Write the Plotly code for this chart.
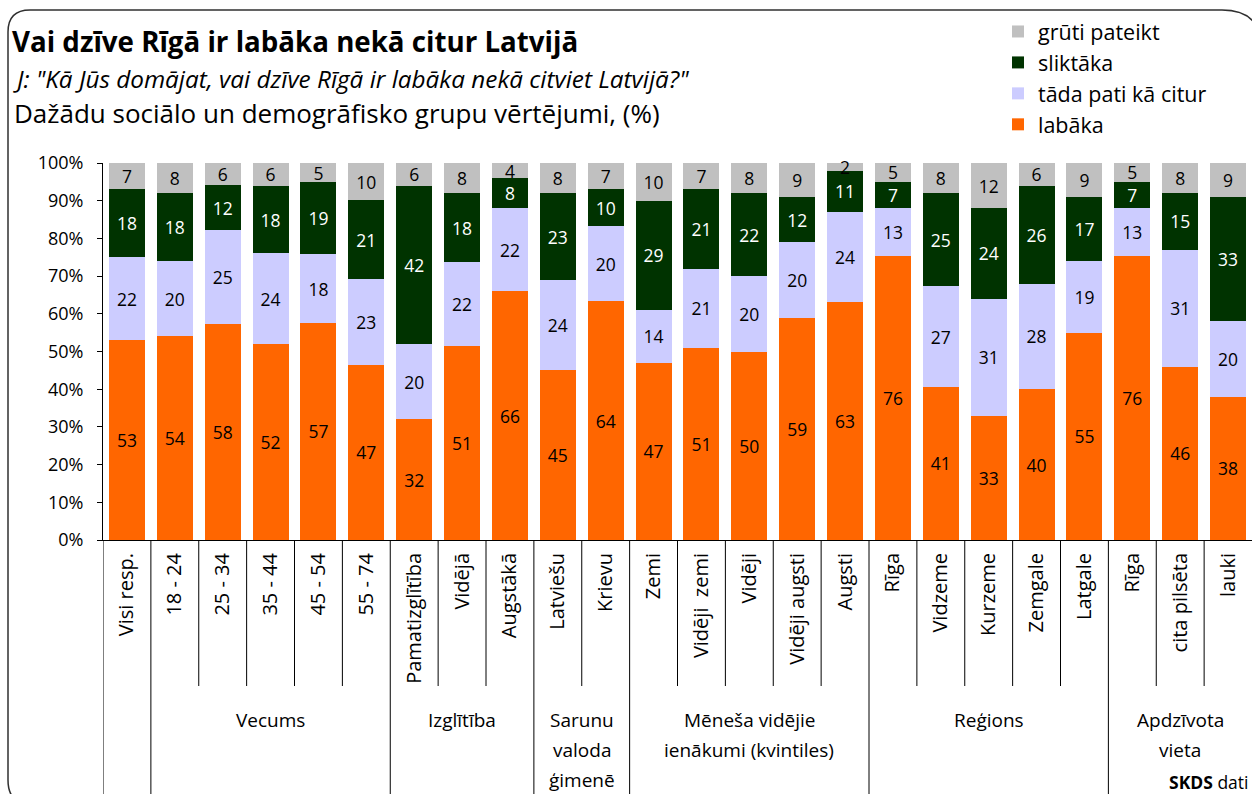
import plotly.graph_objects as go

categories = ["Visi resp.", "18 - 24", "25 - 34", "35 - 44", "45 - 54", "55 - 74",
              "Pamatizglītība", "Vidējā", "Augstākā", "Latviešu", "Krievu",
              "Zemi", "Vidēji  zemi", "Vidēji", "Vidēji augsti", "Augsti",
              "Rīga", "Vidzeme", "Kurzeme", "Zemgale", "Latgale",
              "Rīga", "cita pilsēta", "lauki"]

labaka = [53, 54, 58, 52, 57, 47, 32, 51, 66, 45, 64, 47, 51, 50, 59, 63, 76, 41, 33, 40, 55, 76, 46, 38]
tada_pati = [22, 20, 25, 24, 18, 23, 20, 22, 22, 24, 20, 14, 21, 20, 20, 24, 13, 27, 31, 28, 19, 13, 31, 20]
slikta = [18, 18, 12, 18, 19, 21, 42, 18, 8, 23, 10, 29, 21, 22, 12, 11, 7, 25, 24, 26, 17, 7, 15, 33]
gruti = [7, 8, 6, 6, 5, 10, 6, 8, 4, 8, 7, 10, 7, 8, 9, 2, 5, 8, 12, 6, 9, 5, 8, 9]

series_names = ["labāka", "tāda pati kā citur", "sliktāka", "grūti pateikt"]
series_values = [labaka, tada_pati, slikta, gruti]
series_colors = ["#FF6600", "#CCCCFF", "#003300", "#C0C0C0"]
text_colors = ["#000000", "#000000", "#FFFFFF", "#000000"]

y_ticks = [0, 10, 20, 30, 40, 50, 60, 70, 80, 90, 100]
y_tick_labels = [f"{v}%" for v in y_ticks]

# groups: (label lines, first index, last index)
groups = [
    (["Vecums"], 1, 5),
    (["Izglītība"], 6, 8),
    (["Sarunu", "valoda", "ģimenē"], 9, 10),
    (["Mēneša vidējie", "ienākumi (kvintiles)"], 11, 15),
    (["Reģions"], 16, 20),
    (["Apdzīvota", "vieta"], 21, 23),
]

FONT = "Open Sans"
W, H = 1252, 794
ML, MR, MT, MB = 103, 0, 163, 254
PW = W - ML - MR
PH = H - MT - MB


def px(xp):
    return (xp - ML) / PW


def py(yp):
    return (H - MB - yp) / PH


xs = list(range(len(categories)))

fig = go.Figure()
for name, vals, col, tcol in zip(series_names, series_values, series_colors, text_colors):
    fig.add_trace(go.Bar(
        x=xs, y=vals, name=name, legendgroup=name,
        marker=dict(color=col, line=dict(width=0)),
        text=vals, texttemplate="%{text}", textposition="inside", textangle=0,
        insidetextanchor="middle", cliponaxis=False,
        textfont=dict(family=FONT, size=17.5, color=tcol),
    ))

shapes = []
long_bounds = [-0.5, 0.5] + [g[2] + 0.5 for g in groups[:-1]]
for i in range(len(categories) - 1):
    b = i + 0.5
    if b in long_bounds:
        continue
    shapes.append(dict(type="line", xref="x", yref="paper", x0=b, x1=b,
                       y0=0, y1=py(686), line=dict(color="#000000", width=1)))
for b in long_bounds:
    shapes.append(dict(type="line", xref="x", yref="paper", x0=b, x1=b,
                       y0=0, y1=py(800), line=dict(color="#000000", width=1)))


def P(x, y):
    return f"{px(x):.5f},{py(y):.5f}"


path = (f"M {P(8, 32)} Q {P(8, 10)} {P(30, 10)} L {P(1222, 10)} "
        f"Q {P(1262, 10)} {P(1262, 50)} L {P(1262, 765)} Q {P(1262, 805)} {P(1222, 805)} "
        f"L {P(33, 805)} Q {P(8, 805)} {P(8, 780)} Z")
shapes.append(dict(type="path", xref="paper", yref="paper", path=path,
                   line=dict(color="#303030", width=1.5), layer="below"))

annotations = []
annotations.append(dict(xref="paper", yref="paper", x=px(11), y=py(78),
                        xanchor="left", yanchor="middle", showarrow=False,
                        text="<i>J: \"Kā Jūs domājat, vai dzīve Rīgā ir labāka nekā citviet Latvijā?\"</i>",
                        font=dict(family=FONT, size=24.3, color="#000000")))
annotations.append(dict(xref="paper", yref="paper", x=px(12), y=py(113),
                        xanchor="left", yanchor="middle", showarrow=False,
                        text="Dažādu sociālo un demogrāfisko grupu vērtējumi, (%)",
                        font=dict(family=FONT, size=26, color="#000000")))
for lines, a, b in groups:
    cx = (a + b) / 2
    for k, line in enumerate(lines):
        annotations.append(dict(xref="x", yref="paper", x=cx, y=py(720 + 30 * k),
                                xanchor="center", yanchor="middle", showarrow=False,
                                text=line, font=dict(family=FONT, size=19, color="#000000")))
annotations.append(dict(xref="paper", yref="paper", x=px(1251), y=py(782),
                        xanchor="right", yanchor="middle", showarrow=False,
                        text="<b>SKDS</b> dati",
                        font=dict(family=FONT, size=17.5, color="#000000")))

fig.update_layout(
    width=W, height=H,
    margin=dict(l=ML, r=MR, t=MT, b=MB),
    paper_bgcolor="white", plot_bgcolor="white",
    barmode="stack", barnorm="percent", bargap=0.25,
    uniformtext=dict(minsize=17.5, mode="show"),
    title=dict(text="<b>Vai dzīve Rīgā ir labāka nekā citur Latvijā</b>",
               xref="container", yref="container", x=12 / W, y=1 - 42 / H,
               xanchor="left", yanchor="middle",
               font=dict(family=FONT, size=27.7, color="#000000")),
    legend=dict(x=px(998), y=py(11), xanchor="left", yanchor="top",
                traceorder="reversed", tracegroupgap=2,
                font=dict(family=FONT, size=21.5, color="#000000"),
                bgcolor="rgba(0,0,0,0)", itemclick=False),
    shapes=shapes, annotations=annotations,
    showlegend=True,
)
fig.update_xaxes(
    range=[-0.5, len(categories) - 0.5], tickmode="array", tickvals=xs, ticktext=categories,
    tickangle=-90, ticks="", showgrid=False, zeroline=False,
    showline=True, linecolor="#000000", linewidth=1, ticklabelstandoff=4,
    tickfont=dict(family=FONT, size=20, color="#000000"),
)
fig.update_yaxes(
    range=[0, 100.001], tickmode="array", tickvals=y_ticks, ticktext=y_tick_labels,
    ticks="outside", ticklen=5, tickcolor="#000000", showgrid=False, zeroline=False,
    showline=True, linecolor="#000000", linewidth=1,
    tickfont=dict(family=FONT, size=18, color="#000000"), ticklabelstandoff=10,
)

fig.write_html("out.html")
